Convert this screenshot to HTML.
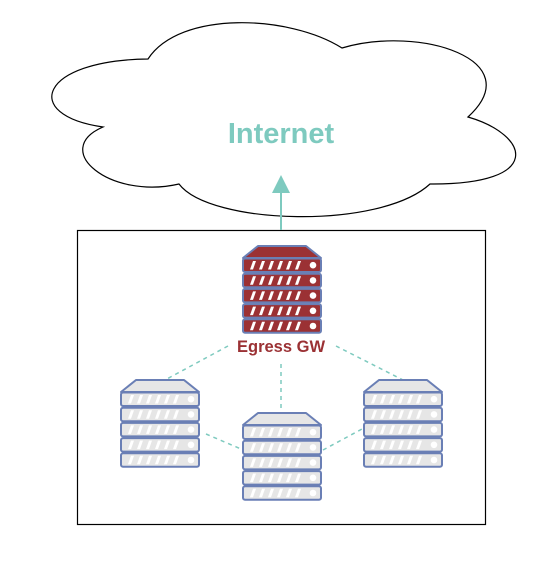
<!DOCTYPE html>
<html><head><meta charset="utf-8"><style>
html,body{margin:0;padding:0;background:#fff;width:549px;height:568px;overflow:hidden}
</style></head><body>
<svg width="549" height="568" viewBox="0 0 549 568" xmlns="http://www.w3.org/2000/svg">
<defs>
<g id="row">
  <rect x="1" y="0.5" width="78" height="13.5" rx="2" fill="#e6e6e6" stroke="#6a7fb5" stroke-width="2"/>
  <g fill="#fff">
    <polygon points="8,11.5 11,3 14,3 11,11.5"/>
    <polygon points="17,11.5 20,3 23,3 20,11.5"/>
    <polygon points="26,11.5 29,3 32,3 29,11.5"/>
    <polygon points="35,11.5 38,3 41,3 38,11.5"/>
    <polygon points="44,11.5 47,3 50,3 47,11.5"/>
    <polygon points="53,11.5 56,3 59,3 56,11.5"/>
    <circle cx="71" cy="7.2" r="3.3"/>
  </g>
</g>
<g id="srv">
  <polygon points="1,13 16,1 64,1 79,13" fill="#e6e6e6" stroke="#6a7fb5" stroke-width="2" stroke-linejoin="round"/>
  <use href="#row" y="13"/>
  <use href="#row" y="28.2"/>
  <use href="#row" y="43.4"/>
  <use href="#row" y="58.6"/>
  <use href="#row" y="73.8"/>
</g>
<g id="rowr">
  <rect x="1" y="0.5" width="78" height="13.5" rx="2" fill="#9b3134" stroke="#6a7fb5" stroke-width="2"/>
  <g fill="#fff">
    <polygon points="8,11.5 11,3 14,3 11,11.5"/>
    <polygon points="17,11.5 20,3 23,3 20,11.5"/>
    <polygon points="26,11.5 29,3 32,3 29,11.5"/>
    <polygon points="35,11.5 38,3 41,3 38,11.5"/>
    <polygon points="44,11.5 47,3 50,3 47,11.5"/>
    <polygon points="53,11.5 56,3 59,3 56,11.5"/>
    <circle cx="71" cy="7.2" r="3.3"/>
  </g>
</g>
</defs>

<path d="M148,59 C180,10 290,15 342,48 C420,25 530,60 468,117 C530,135 545,185 430,184 C380,230 210,225 179,184 C110,200 50,150 103,127 C20,115 40,60 148,59 Z" fill="#fff" stroke="#000" stroke-width="1.2"/>
<text x="281" y="143" text-anchor="middle" font-family="Liberation Sans, sans-serif" font-weight="bold" font-size="29" fill="#7ecabf">Internet</text>

<rect x="77.5" y="230.5" width="408" height="294" fill="none" stroke="#000" stroke-width="1.2"/>

<line x1="281" y1="230" x2="281" y2="190" stroke="#7ecabf" stroke-width="2"/>
<polygon points="272,193 290,193 281,175" fill="#7ecabf"/>

<g stroke="#7ecabf" stroke-width="1.5" stroke-dasharray="4,4" fill="none">
  <line x1="228" y1="346" x2="165" y2="380"/>
  <line x1="281" y1="364" x2="281" y2="412"/>
  <line x1="336" y1="346" x2="403" y2="380"/>
  <line x1="206" y1="434" x2="241" y2="449"/>
  <line x1="323" y1="450" x2="362" y2="429"/>
</g>

<g transform="translate(242,245)">
  <polygon points="1,13 16,1 64,1 79,13" fill="#9b3134" stroke="#6a7fb5" stroke-width="2" stroke-linejoin="round"/>
  <use href="#rowr" y="13"/>
  <use href="#rowr" y="28.2"/>
  <use href="#rowr" y="43.4"/>
  <use href="#rowr" y="58.6"/>
  <use href="#rowr" y="73.8"/>
</g>
<text x="281" y="352" text-anchor="middle" font-family="Liberation Sans, sans-serif" font-weight="bold" font-size="16.5" fill="#9b3134">Egress GW</text>

<use href="#srv" x="120" y="379"/>
<use href="#srv" x="242" y="412"/>
<use href="#srv" x="363" y="379"/>
</svg>
</body></html>
